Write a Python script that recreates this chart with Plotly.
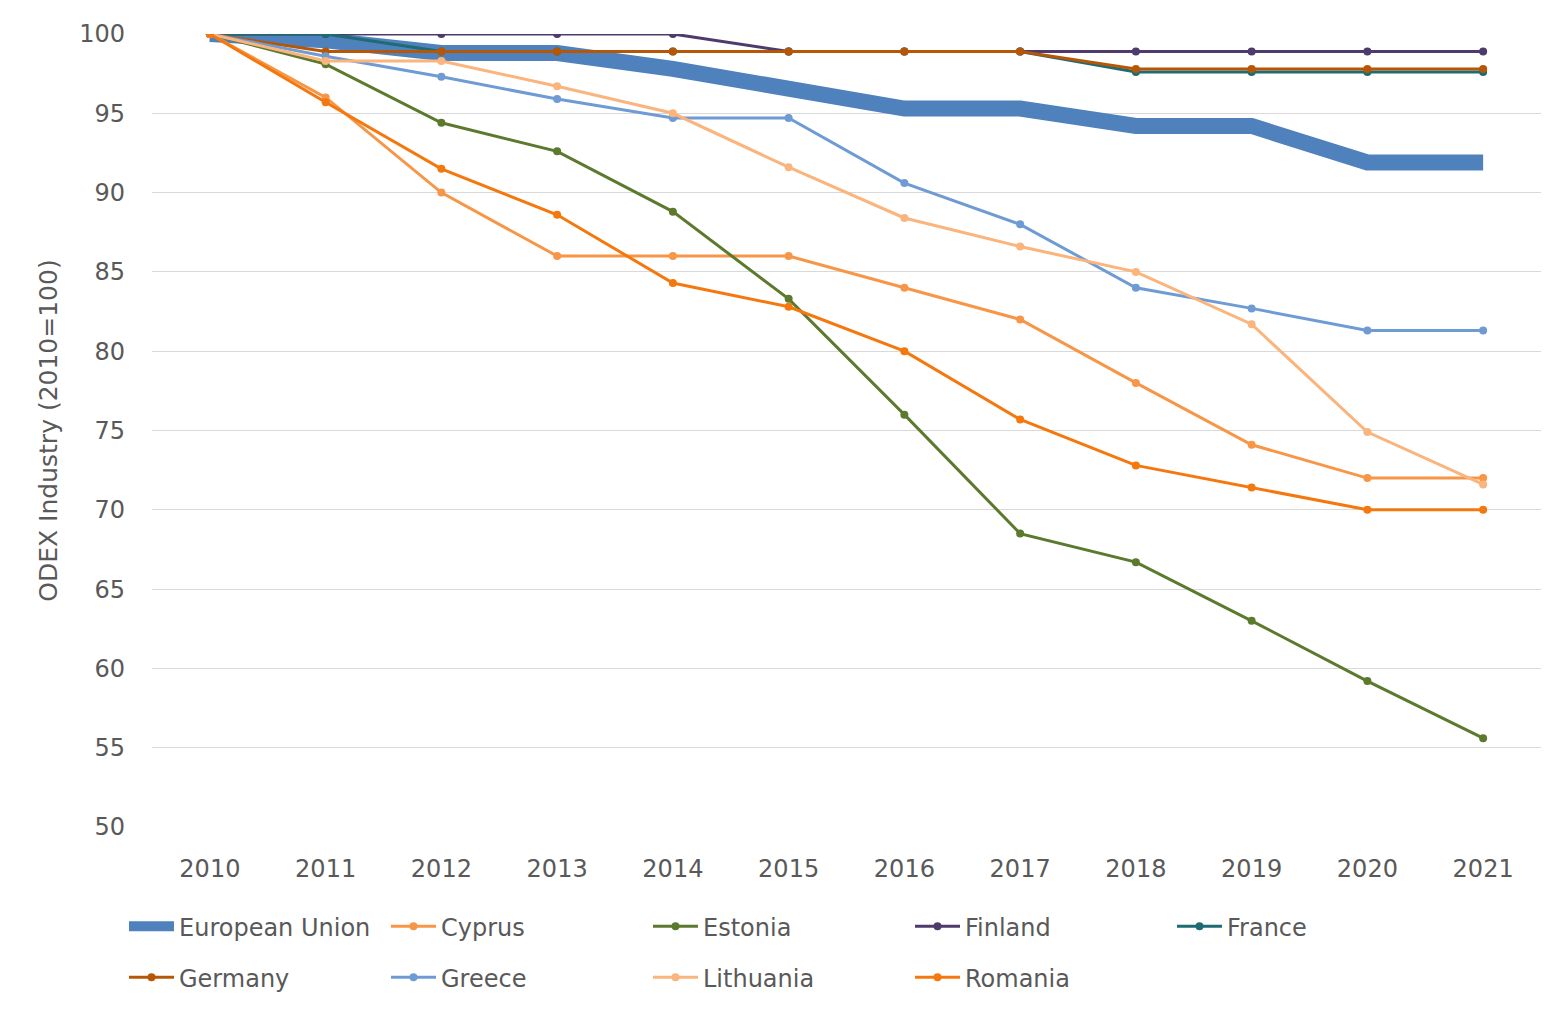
import plotly.graph_objects as go

years = [str(y) for y in range(2010, 2022)]

eu = [100, 99.6, 98.8, 98.8, 97.8, 96.6, 95.3, 95.3, 94.2, 94.2, 91.9, 91.9]
cyprus = [100, 96.0, 90.0, 86.0, 86.0, 86.0, 84.0, 82.0, 78.0, 74.1, 72.0, 72.0]
estonia = [100, 98.1, 94.4, 92.6, 88.8, 83.3, 76.0, 68.5, 66.7, 63.0, 59.2, 55.6]
finland = [100, 100, 100, 100, 100, 98.9, 98.9, 98.9, 98.9, 98.9, 98.9, 98.9]
france = [100, 100, 98.9, 98.9, 98.9, 98.9, 98.9, 98.9, 97.6, 97.6, 97.6, 97.6]
germany = [100, 98.9, 98.9, 98.9, 98.9, 98.9, 98.9, 98.9, 97.8, 97.8, 97.8, 97.8]
greece = [100, 98.6, 97.3, 95.9, 94.7, 94.7, 90.6, 88.0, 84.0, 82.7, 81.3, 81.3]
lithuania = [100, 98.3, 98.3, 96.7, 95.0, 91.6, 88.4, 86.6, 85.0, 81.7, 74.9, 71.6]
romania = [100, 95.7, 91.5, 88.6, 84.3, 82.8, 80.0, 75.7, 72.8, 71.4, 70.0, 70.0]

series = [
    ("European Union", eu, "#4F81BD", "legend"),
    ("Cyprus", cyprus, "#F79646", "legend"),
    ("Estonia", estonia, "#5B7A2E", "legend"),
    ("Finland", finland, "#4E3B6B", "legend"),
    ("France", france, "#1E6B73", "legend"),
    ("Germany", germany, "#B65708", "legend2"),
    ("Greece", greece, "#6F9BD5", "legend2"),
    ("Lithuania", lithuania, "#FAB47C", "legend2"),
    ("Romania", romania, "#F5780F", "legend2"),
]

FONT = "DejaVu Sans"
fig = go.Figure()
for name, vals, color, lg in series:
    if name == "European Union":
        fig.add_trace(go.Scatter(x=years, y=vals, name=name, mode="lines",
                                 line=dict(color=color, width=16), legend=lg))
    else:
        fig.add_trace(go.Scatter(x=years, y=vals, name=name, mode="lines+markers",
                                 line=dict(color=color, width=3),
                                 marker=dict(color=color, size=8), legend=lg))

OFF = 8  # page body margin
W, H = 1564 - OFF, 1014 - OFF
ml, mr, mt, mb = 152 - OFF, 23, 32 - OFF, 187
pw, ph = W - ml - mr, H - mt - mb


def ly(page_y):
    return -((page_y - OFF) - (mt + ph)) / ph


legend_common = dict(orientation="h", xanchor="left", yanchor="middle",
                     entrywidth=202, entrywidthmode="pixels", itemwidth=45,
                     font=dict(family=FONT, size=24, color="#595959"),
                     bgcolor="rgba(0,0,0,0)", traceorder="normal")

lx = (124 - OFF - ml) / pw

fig.update_layout(
    width=W, height=H,
    margin=dict(l=ml, r=mr, t=mt, b=mb),
    paper_bgcolor="white", plot_bgcolor="white",
    font=dict(family=FONT, size=24, color="#595959"),
    xaxis=dict(type="category", range=[-0.5, len(years) - 0.5],
               showgrid=False, showline=False, ticks="",
               tickfont=dict(family=FONT, size=24, color="#595959"),
               ticklabelstandoff=25, fixedrange=True),
    yaxis=dict(range=[50, 100], dtick=5, tick0=50, showgrid=True,
               gridcolor="#D9D9D9", gridwidth=1, zeroline=False, showline=False,
               ticks="", tickfont=dict(family=FONT, size=24, color="#595959"),
               ticklabelstandoff=26,
               title=dict(text="ODEX Industry (2010=100)",
                          font=dict(family=FONT, size=25, color="#595959"),
                          standoff=14)),
    legend=dict(legend_common, x=lx, y=ly(927)),
    legend2=dict(legend_common, x=lx, y=ly(978)),
    showlegend=True,
)

fig.write_html("out.html")
